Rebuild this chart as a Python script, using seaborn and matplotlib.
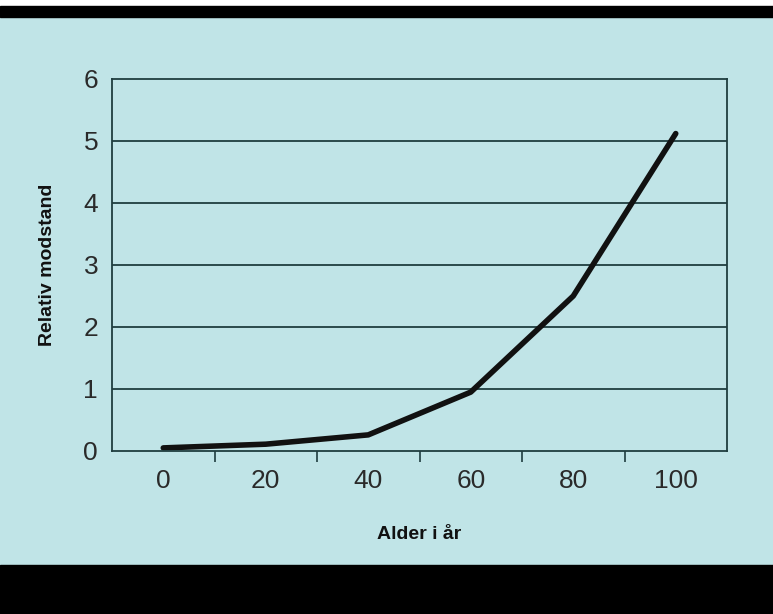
import pandas as pd
import matplotlib.pyplot as plt
import seaborn as sns
from matplotlib.patches import Rectangle

# data
alder = ["0", "20", "40", "60", "80", "100"]
modstand = [0.05, 0.11, 0.26, 0.95, 2.5, 5.12]

bg = "#c0e4e7"
linjefarve = "#1f3d3f"

sns.set_theme(style="white")
plt.rcParams['font.family'] = ['Liberation Sans', 'DejaVu Sans']

df = pd.DataFrame({"alder": alder, "modstand": modstand})

fig = plt.figure(figsize=(7.73, 6.14), dpi=100)
fig.patch.set_facecolor(bg)

# sorte bjaelker top og bund
fig.patches.append(Rectangle((0, 1 - 6 / 614), 1, 6 / 614, transform=fig.transFigure, color="white", zorder=0))
fig.patches.append(Rectangle((0, 1 - 17 / 614), 1, 11 / 614, transform=fig.transFigure, color="black", zorder=0))
fig.patches.append(Rectangle((0, 0), 1, 49 / 614, transform=fig.transFigure, color="black", zorder=0))

ax = fig.add_axes([112 / 773, 163 / 614, 615 / 773, 372 / 614])
ax.set_facecolor(bg)

sns.lineplot(data=df, x="alder", y="modstand", ax=ax, color="#111111", linewidth=4, sort=False)

ax.set_xlim(-0.5, 5.5)
ax.set_ylim(0, 6)
ax.set_yticks(range(0, 7))
for y in range(1, 6):
    ax.axhline(y, color=linjefarve, linewidth=1.3, zorder=0)

ax.set_xticks(range(len(alder)))
ax.set_xticklabels(alder)
ax.set_xticks([i + 0.5 for i in range(len(alder) - 1)], minor=True)
ax.tick_params(axis="x", which="major", bottom=True, length=0, pad=13, labelsize=19, colors="#2a2a2a")
ax.tick_params(axis="x", which="minor", bottom=True, length=8, width=1.2, color=linjefarve, direction="out")
ax.tick_params(axis="y", length=0, pad=10, labelsize=19, colors="#2a2a2a")

for s in ax.spines.values():
    s.set_color(linjefarve)
    s.set_linewidth(1.3)

ax.set_xlabel("Alder i år", fontsize=14, fontweight="bold", labelpad=24, color="#111111")
ax.set_ylabel("Relativ modstand", fontsize=14, fontweight="bold", labelpad=20, color="#111111")

fig.savefig("out.png", dpi=100, facecolor=bg)
